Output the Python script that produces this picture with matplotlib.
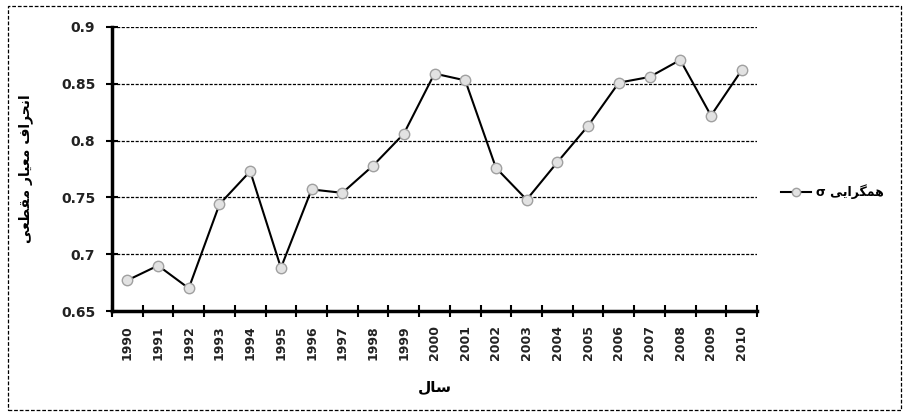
import numpy as np
import matplotlib
matplotlib.use("Agg")
import matplotlib.pyplot as plt
from matplotlib.patches import Rectangle

# ---- data ---------------------------------------------------------------
years = [str(y) for y in range(1990, 2011)]
sigma = [0.677, 0.690, 0.670, 0.744, 0.773, 0.688, 0.757, 0.754, 0.778, 0.806,
         0.859, 0.853, 0.776, 0.748, 0.781, 0.813, 0.851, 0.856, 0.871, 0.822, 0.862]
y_ticks = [0.65, 0.7, 0.75, 0.8, 0.85, 0.9]
y_tick_labels = ["0.65", "0.7", "0.75", "0.8", "0.85", "0.9"]

# Persian text in presentation forms, visual (left-to-right) order
x_label = "\uFEDD\uFE8E\uFEB3"                                   # سال
y_label = ("\uFEF0\uFECC\uFEC4\uFED8\uFEE3 "                      # مقطعی
           "\uFEAD\uFE8E\uFEF4\uFECC\uFEE3 "                      # معیار
           "\uFED1\uFE8D\uFEAE\uFEA4\uFEE7\uFE8D")                # انحراف
series_label = "\u03c3 " + "\uFEF0\uFEF3\uFE8D\uFEAE\uFB95\uFEE4\uFEEB"  # همگرایی σ

fam = ["DejaVu Sans"]

# ---- plot ---------------------------------------------------------------
fig = plt.figure(figsize=(9.06, 4.16), dpi=100)
ax = fig.add_axes([0.1236, 0.2524, 0.712, 0.6827])

x = np.arange(len(years))
ax.plot(x, sigma, color="black", lw=1.5, marker="o", markersize=7.5,
        markerfacecolor="#e2e2e2", markeredgecolor="#a0a0a0", markeredgewidth=1.0,
        label=series_label, zorder=3)

ax.set_xlim(-0.5, len(years) - 0.5)
ax.set_ylim(0.65, 0.9)

ax.set_yticks(y_ticks)
ax.set_yticklabels(y_tick_labels, fontsize=10, fontweight="bold", color="#222222")
ax.tick_params(axis="y", direction="inout", length=8, width=1.5, pad=8)

ax.set_xticks(x)
ax.set_xticklabels(years, rotation=90, fontsize=9, fontweight="bold", color="#222222")
ax.tick_params(axis="x", which="major", length=0, pad=10)
ax.set_xticks(np.arange(-0.5, len(years), 1.0), minor=True)
ax.tick_params(axis="x", which="minor", direction="inout", length=8, width=1.5)

for v in y_ticks[1:]:
    ax.axhline(v, color="black", lw=0.9, ls=(0, (2.5, 1.2)), zorder=1)

for s in ["top", "right"]:
    ax.spines[s].set_visible(False)
ax.spines["left"].set_linewidth(2.5)
ax.spines["bottom"].set_linewidth(2.5)

ax.set_xlabel(x_label, fontsize=11, fontweight="bold", family=fam, labelpad=14)
ax.set_ylabel(y_label, fontsize=10, fontweight="bold", family=fam, labelpad=20)

leg = ax.legend(loc="center left", bbox_to_anchor=(1.02, 0.42), frameon=False,
                handlelength=2.4, handletextpad=0.4, markerscale=0.8,
                prop={"family": fam, "weight": "bold", "size": 9})

# dashed outer frame
fig.add_artist(Rectangle((0.009, 0.015), 0.985, 0.97, transform=fig.transFigure,
                         fill=False, ec="black", lw=0.9, ls=(0, (3, 1.5))))

fig.savefig("out.png", dpi=100)
